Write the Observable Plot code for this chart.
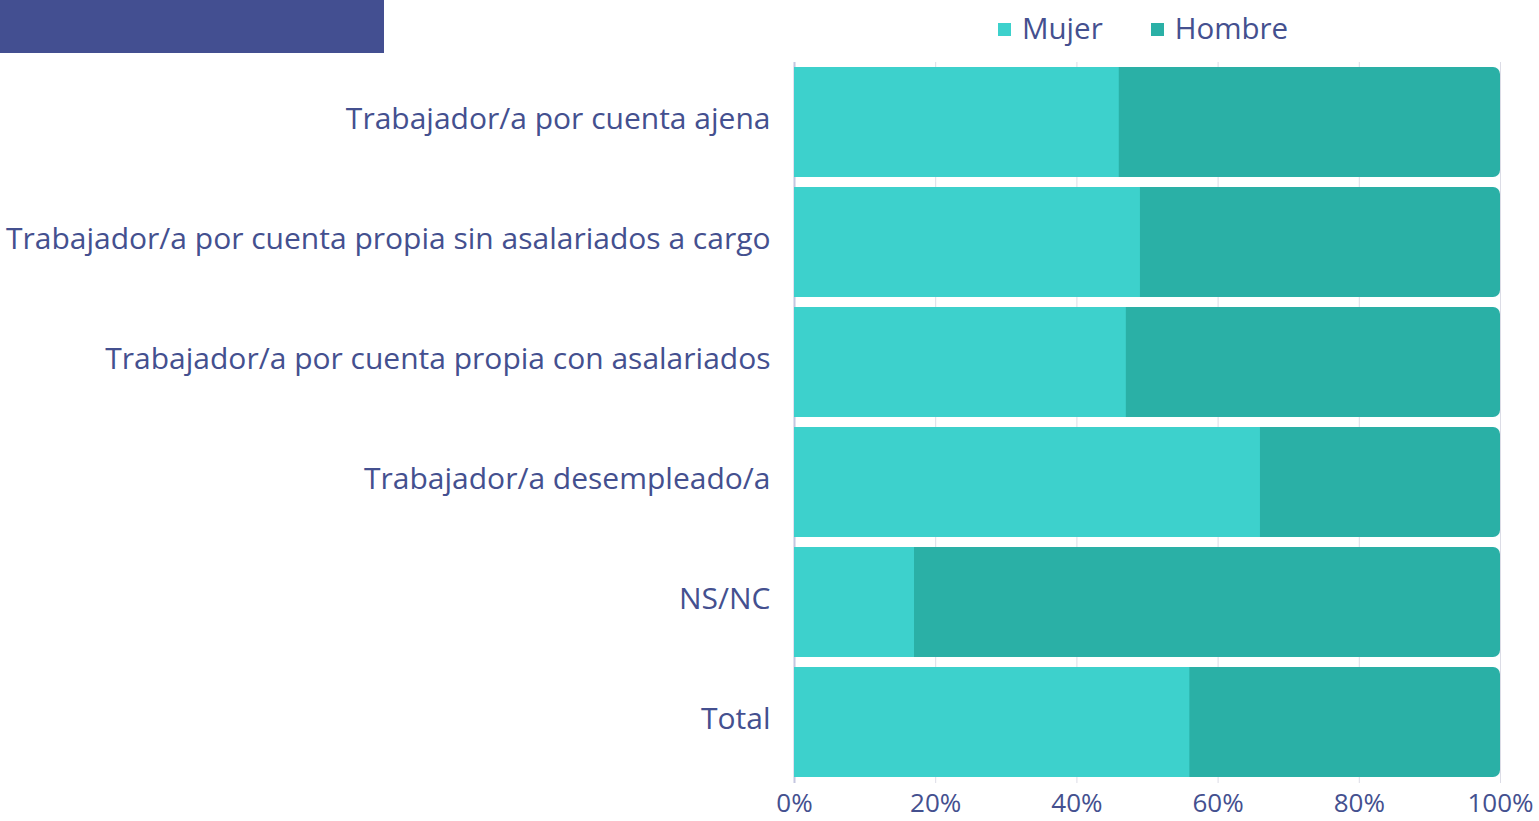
<!DOCTYPE html>
<html>
<head>
<meta charset="utf-8">
<script src="https://cdn.jsdelivr.net/npm/d3@7"></script>
<script src="https://cdn.jsdelivr.net/npm/@observablehq/plot@0.6"></script>
<style>
  html, body { margin: 0; padding: 0; background: #fff; }
  body { width: 1539px; height: 821px; position: relative; overflow: hidden; font-family: "Open Sans", sans-serif; }
  #banner { position: absolute; left: 0; top: 0; width: 384px; height: 53px; background: #434f91; }
  #legend { position: absolute; top: 7px; left: 998px; display: flex; align-items: center; color: #44508f; font-size: 29.5px; }
  #legend .item { display: flex; align-items: center; margin-right: 48px; }
  #legend .sw { width: 13px; height: 13px; margin-right: 11px; margin-top: 3px; }
  #chart { position: absolute; left: 0; top: 0; }
</style>
</head>
<body>
<div id="chart"></div>
<div id="banner"></div>
<div id="legend"></div>
<script>
const categories = [
  "Trabajador/a por cuenta ajena",
  "Trabajador/a por cuenta propia sin asalariados a cargo",
  "Trabajador/a por cuenta propia con asalariados",
  "Trabajador/a desempleado/a",
  "NS/NC",
  "Total"
];
const mujer = [46, 49, 47, 66, 17, 56];
const hombre = [54, 51, 53, 34, 83, 44];
const seriesNames = ["Mujer", "Hombre"];
const seriesColors = ["#3dd1cc", "#2ab0a6"];
const xTicks = [0, 20, 40, 60, 80, 100];

const rows = categories.map((c, i) => ({cat: c, mujer: mujer[i], hombre: hombre[i]}));

const textColor = "#44508f";

const plot = Plot.plot({
  width: 1539,
  height: 821,
  marginLeft: 794,
  marginRight: 39,
  marginTop: 62,
  marginBottom: 38,
  style: {fontFamily: "Open Sans, sans-serif", color: textColor, background: "transparent", overflow: "visible"},
  x: {domain: [0, 100], ticks: xTicks, tickFormat: d => d + "%"},
  y: {domain: categories, paddingInner: 0.083, paddingOuter: 0.04},
  marks: [
    Plot.ruleX(xTicks.slice(1), {stroke: "#dcdce6", strokeWidth: 1}),
    Plot.ruleX([0], {stroke: "#c4c6e0", strokeWidth: 2}),
    Plot.barX(rows, {y: "cat", x1: 0, x2: d => d.mujer + d.hombre, fill: seriesColors[1], rx: 7}),
    Plot.barX(rows, {y: "cat", x1: 0, x2: "mujer", fill: seriesColors[0]}),
    Plot.axisX({ticks: xTicks, tickFormat: d => d + "%", tickSize: 0, tickPadding: 10, fontSize: 26, fill: textColor, label: null}),
    Plot.axisY({tickSize: 0, tickPadding: 24, fontSize: 30, fill: textColor, label: null, dy: -3})
  ]
});
document.getElementById("chart").appendChild(plot);

const legend = document.getElementById("legend");
seriesNames.forEach((n, i) => {
  const it = document.createElement("div");
  it.className = "item";
  const sw = document.createElement("div");
  sw.className = "sw";
  sw.style.background = seriesColors[i];
  const t = document.createElement("span");
  t.textContent = n;
  it.appendChild(sw); it.appendChild(t);
  legend.appendChild(it);
});
</script>
</body>
</html>
